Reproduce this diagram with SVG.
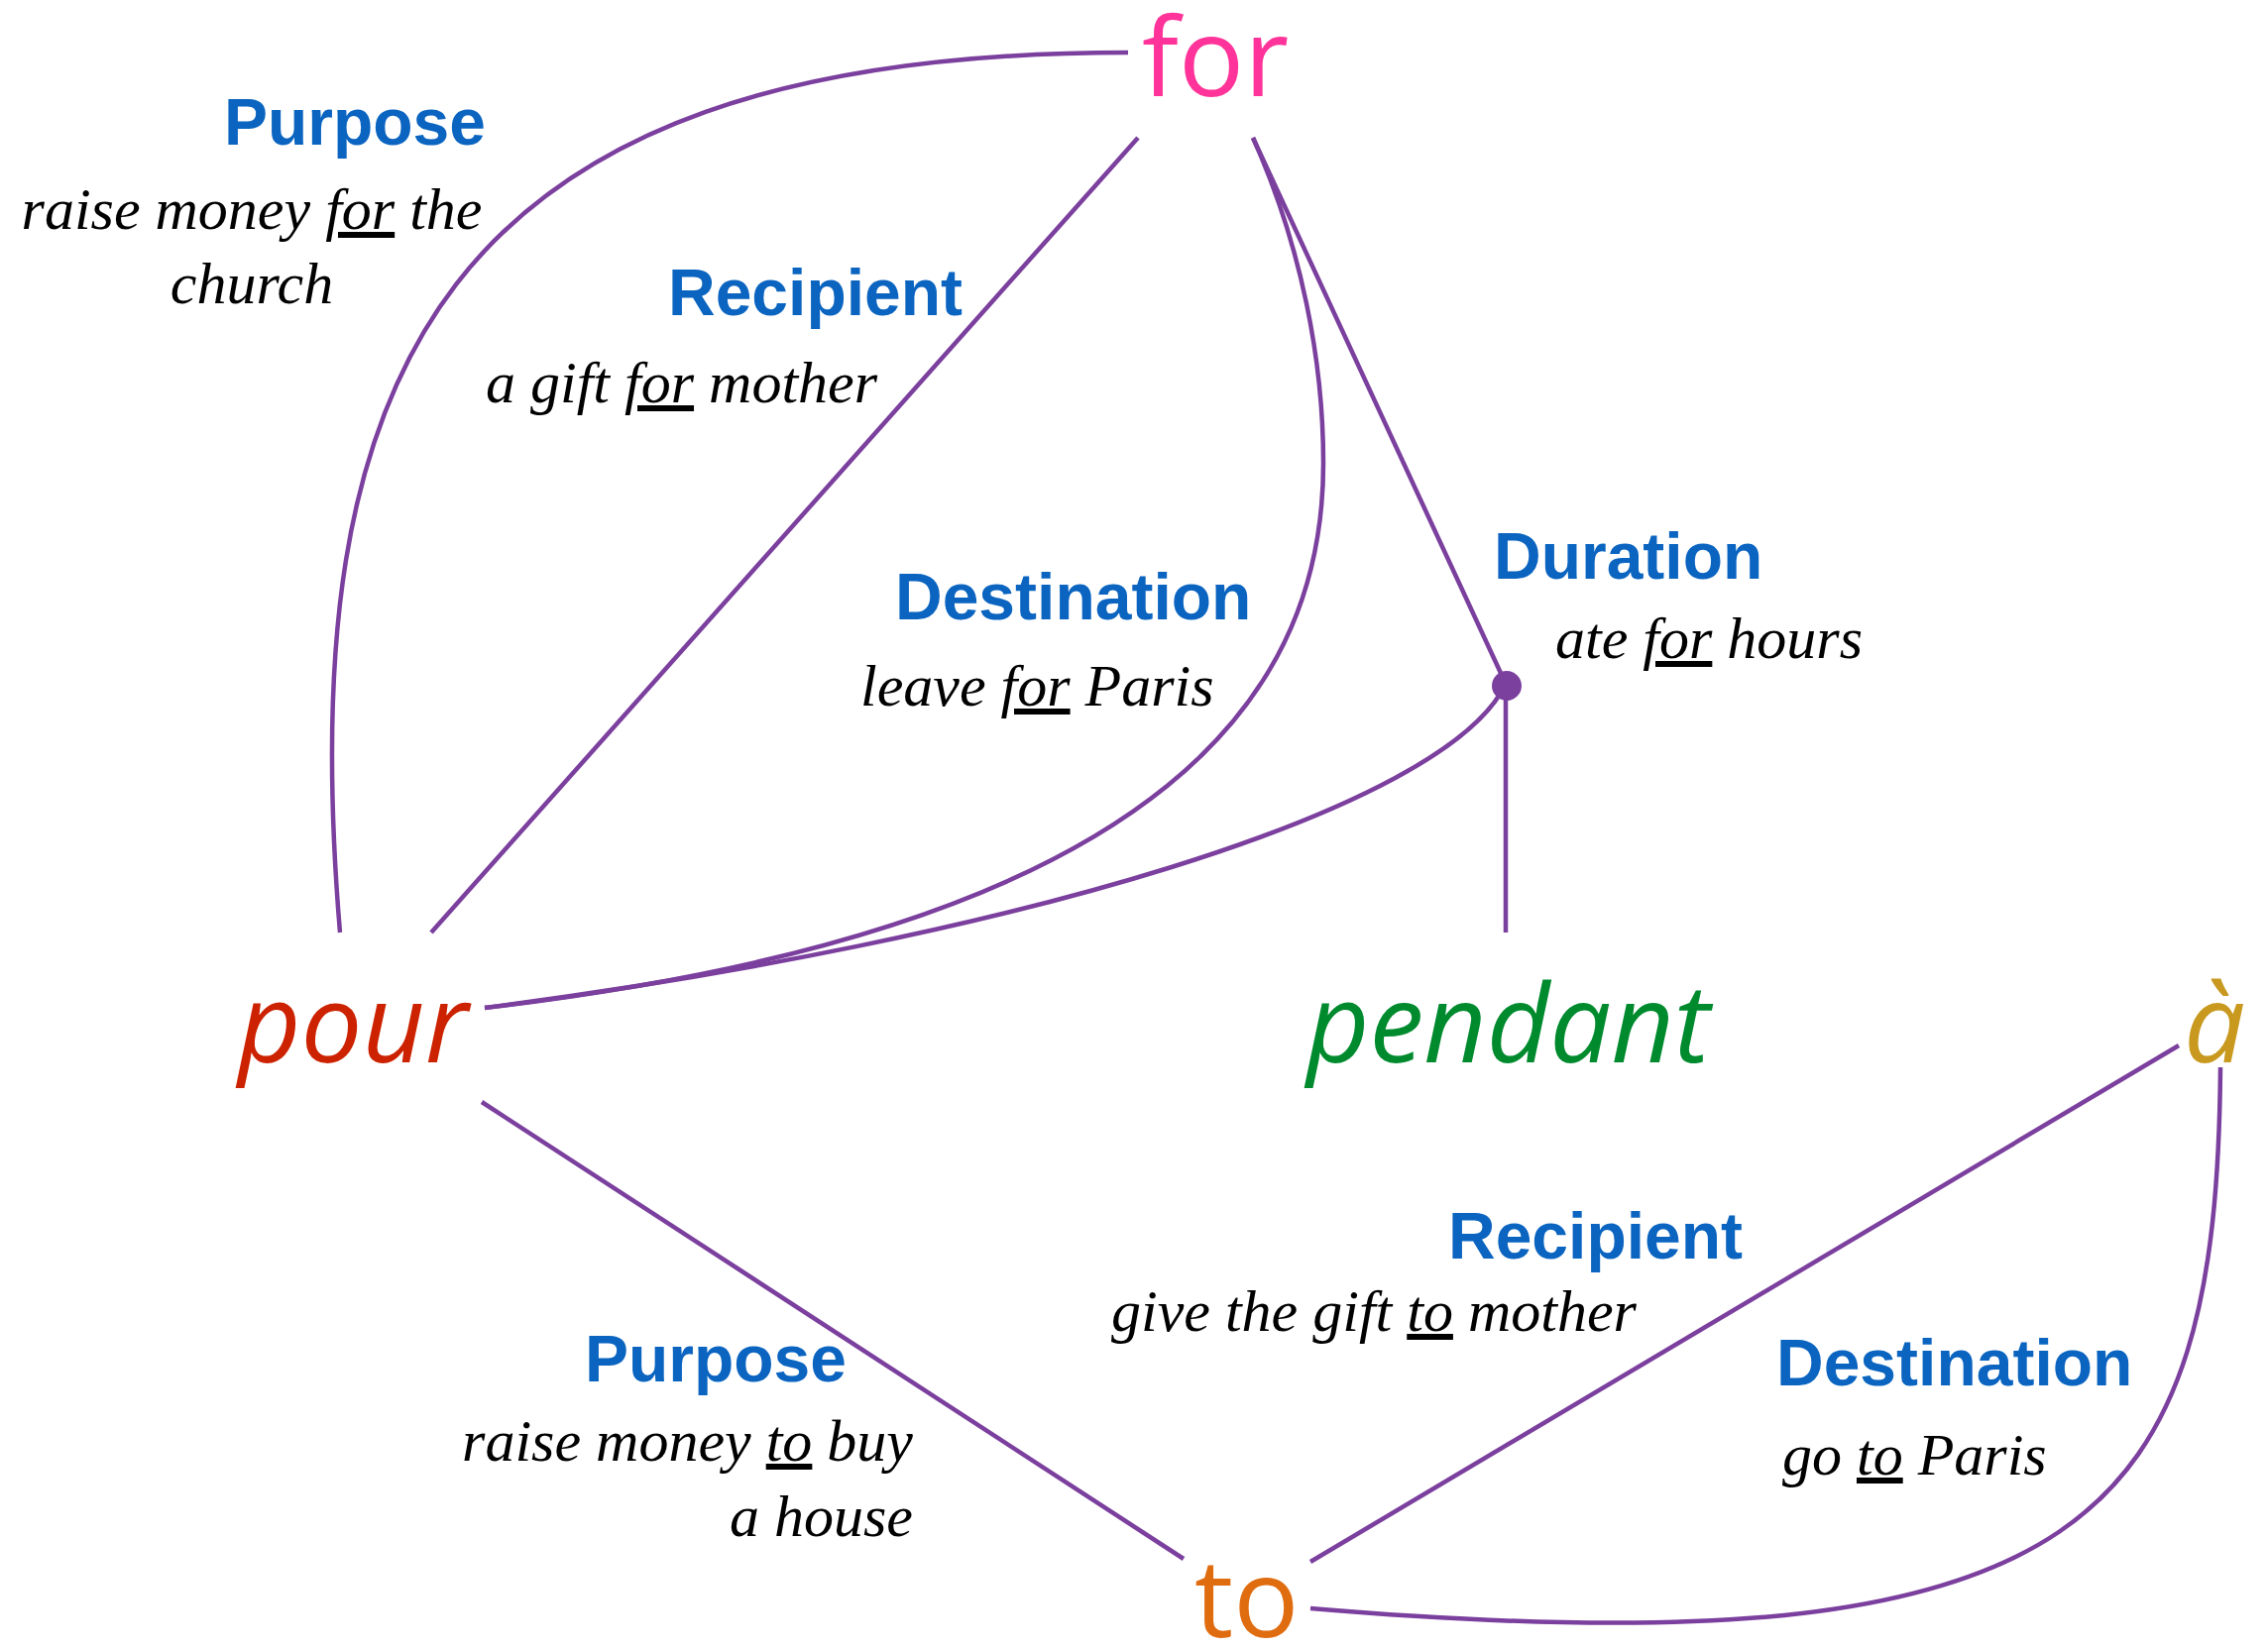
<svg xmlns="http://www.w3.org/2000/svg" width="2288" height="1664" viewBox="0 0 2288 1664">
<style>
.node{font-family:"Open Sans","Noto Sans",sans-serif;font-size:110px}
.it{font-style:italic}
.lab{font-family:"Liberation Sans",Arial,sans-serif;font-weight:bold;font-size:66px;fill:#0a64c0}
.ex{font-family:"Liberation Serif","Times New Roman",serif;font-style:italic;font-size:60px;fill:#000}
.u{text-decoration:underline}
.edge{fill:none;stroke:#7b3f9e;stroke-width:4.5;stroke-linecap:butt}
</style>
<rect width="2288" height="1664" fill="#fff"/>
<g id="connectors">
<path class="edge" d="M1138,53 C438,53 296,380 343,941"/>
<path class="edge" d="M1148,139 L435,941"/>
<path class="edge" d="M1264,139 C1313,248 1335,365 1335,467 C1335,686 1197,934 489,1017"/>
<path class="edge" d="M1264,139 L1519,690"/>
<path class="edge" d="M1519,690 C1459,817 1021,948 489,1017"/>
<path class="edge" d="M1519,690 L1519,941"/>
<path class="edge" d="M486,1112 L1194,1573"/>
<path class="edge" d="M1322,1576 L2198,1055"/>
<path class="edge" d="M2240,1077 C2236,1532 2116,1690 1322,1623"/>
<circle cx="1520" cy="692" r="15" fill="#7b3f9e"/>
</g>
<g id="node-for"><text class="node" x="1152" y="97" fill="#ff3399">for</text></g>
<g id="node-pour"><text class="node it" x="240" y="1072" fill="#cc2200">pour</text></g>
<g id="node-pendant"><text class="node it" x="1318" y="1072" fill="#008a2e">pendant</text></g>
<g id="node-a"><text class="node it" x="2203" y="1072" fill="#c8991e">à</text></g>
<g id="node-to"><text class="node" x="1205" y="1652" fill="#e06c10">to</text></g>
<g id="labels">
<text class="lab" x="490" y="146" text-anchor="end">Purpose</text>
<text class="ex" x="254" y="231" text-anchor="middle">raise money <tspan class="u">for</tspan> the</text>
<text class="ex" x="254" y="306" text-anchor="middle">church</text>
<text class="lab" x="674" y="318">Recipient</text>
<text class="ex" x="490" y="406">a gift <tspan class="u">for</tspan> mother</text>
<text class="lab" x="903" y="625">Destination</text>
<text class="ex" x="868" y="712">leave <tspan class="u">for</tspan> Paris</text>
<text class="lab" x="1507" y="584">Duration</text>
<text class="ex" x="1569" y="664">ate <tspan class="u">for</tspan> hours</text>
<text class="lab" x="1461" y="1270">Recipient</text>
<text class="ex" x="1121" y="1343">give the gift <tspan class="u">to</tspan> mother</text>
<text class="lab" x="854" y="1394" text-anchor="end">Purpose</text>
<text class="ex" x="921" y="1474" text-anchor="end">raise money <tspan class="u">to</tspan> buy</text>
<text class="ex" x="921" y="1550" text-anchor="end">a house</text>
<text class="lab" x="1792" y="1398">Destination</text>
<text class="ex" x="1798" y="1488">go <tspan class="u">to</tspan> Paris</text>
</g>
</svg>
